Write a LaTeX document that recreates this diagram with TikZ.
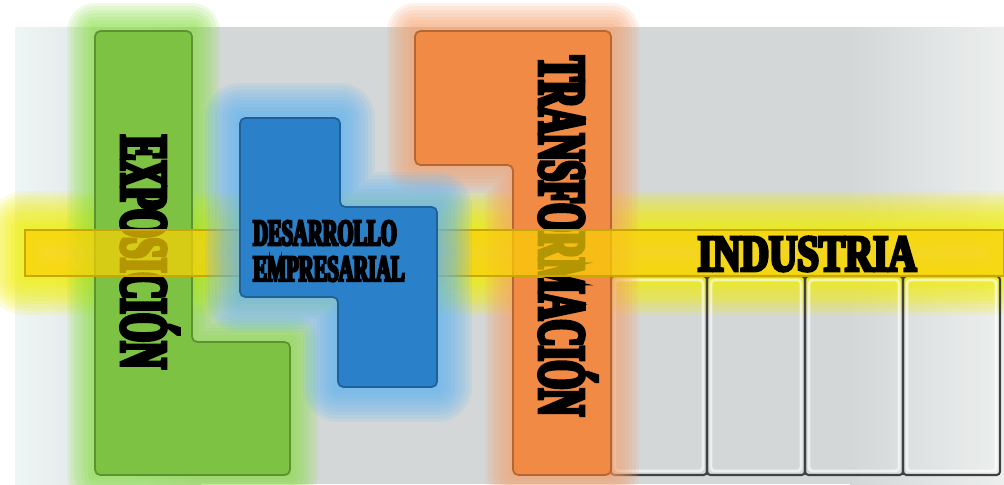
\documentclass[tikz,border=0pt]{standalone}
\usepackage{fontspec}
\usepackage{xcolor}
\newfontfamily\heavyfont{Liberation Serif}[FakeStretch=0.55, FakeBold=6]
\newfontfamily\wideheavyfont{Liberation Serif}[FakeStretch=0.76, FakeBold=6]

\definecolor{panelL}{HTML}{EEF5F5}
\definecolor{panelM}{HTML}{D3D7D7}
\definecolor{panelR}{HTML}{EDEFEF}
\definecolor{greenfill}{HTML}{7DC242}
\definecolor{greenglow}{HTML}{86E040}
\definecolor{bluefill}{HTML}{2A80C9}
\definecolor{blueglow}{HTML}{62B6F4}
\definecolor{orangefill}{HTML}{F08A44}
\definecolor{orangeglow}{HTML}{F8A06A}
\definecolor{barfill}{HTML}{FAD105}
\definecolor{barglow}{HTML}{F4F000}

\begin{document}
\begin{tikzpicture}[
  x=0.01cm, y=-0.01cm,
  glow/.style={draw=#1, opacity=0.13, line join=round, fill=none},
  block/.style={fill=#1, draw=#1!75!black, line width=0.5pt, rounded corners=1.5pt},
  cell/.style={draw=black!75, line width=0.6pt, rounded corners=1pt},
  vtext/.style={rotate=-90, inner sep=0pt, font=\heavyfont\bfseries\fontsize{19}{19}\selectfont},
  bar/.style={fill=barfill, draw=barfill!80!black, fill opacity=0.72, line width=0.4pt}
]
  \useasboundingbox (0,0) rectangle (1004,484);

  % background panel
  \fill[white] (0,0) rectangle (1004,484);
  \shade[left color=panelL, right color=panelM] (15,27) rectangle (201,484);
  \fill[panelM] (200,27) rectangle (851,484);
  \shade[left color=panelM, right color=panelR] (850,27) rectangle (1004,484);

  % shape outlines
  \def\greenpath{(95,31) -- (192,31) -- (192,342) -- (290,342) -- (290,475) -- (95,475) -- cycle}
  \def\bluepath{(240,118) -- (340,118) -- (340,207) -- (437,207) -- (437,387) -- (338,387) -- (338,297) -- (240,297) -- cycle}
  \def\orangepath{(415,31) -- (611,31) -- (611,475) -- (513,475) -- (513,165) -- (415,165) -- cycle}

  % glow of the bar
  \foreach \w in {2,4,...,22}
    \draw[glow=barglow, line width=\w pt] (25,230) rectangle (1004,276);

  % industria cells
  \foreach \x/\xx in {611/707, 707/805, 805/903, 903/1000} {
    \draw[cell] (\x,276) rectangle (\xx,475);
    \draw[white, opacity=0.6, line width=0.8pt, rounded corners=1pt] (\x+4,280) rectangle (\xx-4,471);
  }

  % green and orange blocks
  \foreach \w in {2,4,...,16}
    \draw[glow=greenglow, line width=\w pt] \greenpath;
  \draw[block=greenfill] \greenpath;
  \foreach \w in {2,4,...,16}
    \draw[glow=orangeglow, line width=\w pt] \orangepath;
  \draw[block=orangefill] \orangepath;

  \node[vtext] (expo) at (150,252) {EXPOSICIÓN};
  \node[vtext] (trans) at (568,236) {TRANSFORMACIÓN};

  % bar
  \draw[bar] (25,230) rectangle (1004,276);

  % blue block
  \foreach \w in {2,4,...,20}
    \draw[glow=blueglow, line width=\w pt] \bluepath;
  \draw[block=bluefill] \bluepath;

  \node[align=left, inner sep=0pt, font=\heavyfont\bfseries\fontsize{10.6}{10.2}\selectfont]
    (desa) at (329,251) {DESARROLLO\\EMPRESARIAL};
  \node[inner sep=0pt, font=\wideheavyfont\bfseries\fontsize{14.6}{14.6}\selectfont]
    (indu) at (807,254) {INDUSTRIA};
\end{tikzpicture}
\end{document}
